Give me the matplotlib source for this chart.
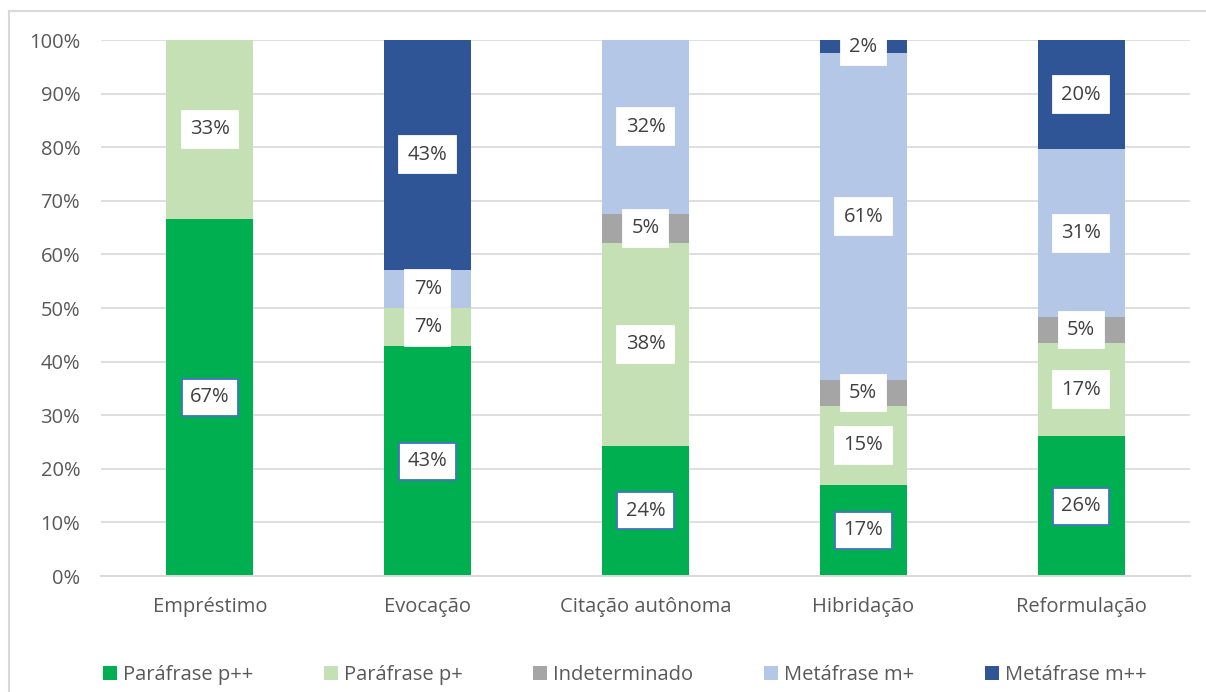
import numpy as np
import matplotlib.pyplot as plt
from matplotlib.lines import Line2D

plt.rcParams['font.family'] = ['Open Sans', 'DejaVu Sans']

categories = ['Empréstimo', 'Evocação', 'Citação autônoma', 'Hibridação', 'Reformulação']
series_names = ['Paráfrase p++', 'Paráfrase p+', 'Indeterminado', 'Metáfrase m+', 'Metáfrase m++']

parafrase_pp = [66.67, 42.86, 24.32, 17.07, 26.09]
parafrase_p = [33.33, 7.14, 37.84, 14.63, 17.39]
indeterminado = [0.0, 0.0, 5.41, 4.88, 4.83]
metafrase_m = [0.0, 7.14, 32.43, 60.98, 31.30]
metafrase_mm = [0.0, 42.86, 0.0, 2.44, 20.39]

colors = ['#00B050', '#C5E0B4', '#A5A5A5', '#B4C7E7', '#2F5597']
series = [parafrase_pp, parafrase_p, indeterminado, metafrase_m, metafrase_mm]

W, H = 1206, 692
fig = plt.figure(figsize=(W / 100, H / 100), dpi=100)
ax = fig.add_axes([101 / W, 1 - 576 / H, (1190 - 101) / W, (576 - 40) / H])

x = np.arange(len(categories))
bottom = np.zeros(len(categories))
text_col = '#595959'
for k, (vals, col) in enumerate(zip(series, colors)):
    vals = np.array(vals)
    ax.bar(x, vals, 0.4, bottom=bottom, color=col, zorder=2, label=series_names[k])
    for i, v in enumerate(vals):
        if v <= 0:
            continue
        edge = '#4472C4' if k == 0 else 'white'
        ax.text(x[i], bottom[i] + v / 2, f'{v:.0f}%', ha='center', va='center',
                fontsize=14.5, color='#404040', zorder=4, clip_on=False,
                bbox=dict(boxstyle='square,pad=0.42', fc='white', ec=edge, lw=1.3))
    bottom += vals

ax.set_xlim(-0.5, len(categories) - 0.5)
ax.set_ylim(0, 100)
ax.set_yticks(np.arange(0, 101, 10))
ax.set_yticklabels([f'{t}%' for t in range(0, 101, 10)])
ax.set_xticks(x)
ax.set_xticklabels(categories)
ax.tick_params(axis='y', length=0, pad=15, labelsize=14.5, labelcolor=text_col)
ax.tick_params(axis='x', length=0, pad=15, labelsize=14.5, labelcolor=text_col)
ax.grid(axis='y', color='#D9D9D9', lw=1.2, zorder=0)
for s in ['top', 'right', 'left']:
    ax.spines[s].set_visible(False)
ax.spines['bottom'].set_color('#D9D9D9')
ax.spines['bottom'].set_linewidth(1.4)

leg = fig.legend(loc='center', bbox_to_anchor=(0.518, 0.025), ncol=5, frameon=False,
                 fontsize=14.5, handlelength=0.7, handleheight=0.7, handletextpad=0.3,
                 columnspacing=3.5, labelcolor=text_col)

# chart border (left and top edges)
fig.add_artist(Line2D([8.5 / W, 8.5 / W], [0, 1 - 11 / H], transform=fig.transFigure,
                      color='#D9D9D9', lw=1.5))
fig.add_artist(Line2D([8.5 / W, 1], [1 - 11 / H, 1 - 11 / H], transform=fig.transFigure,
                      color='#D9D9D9', lw=1.5))

fig.savefig('out.png', dpi=100)
